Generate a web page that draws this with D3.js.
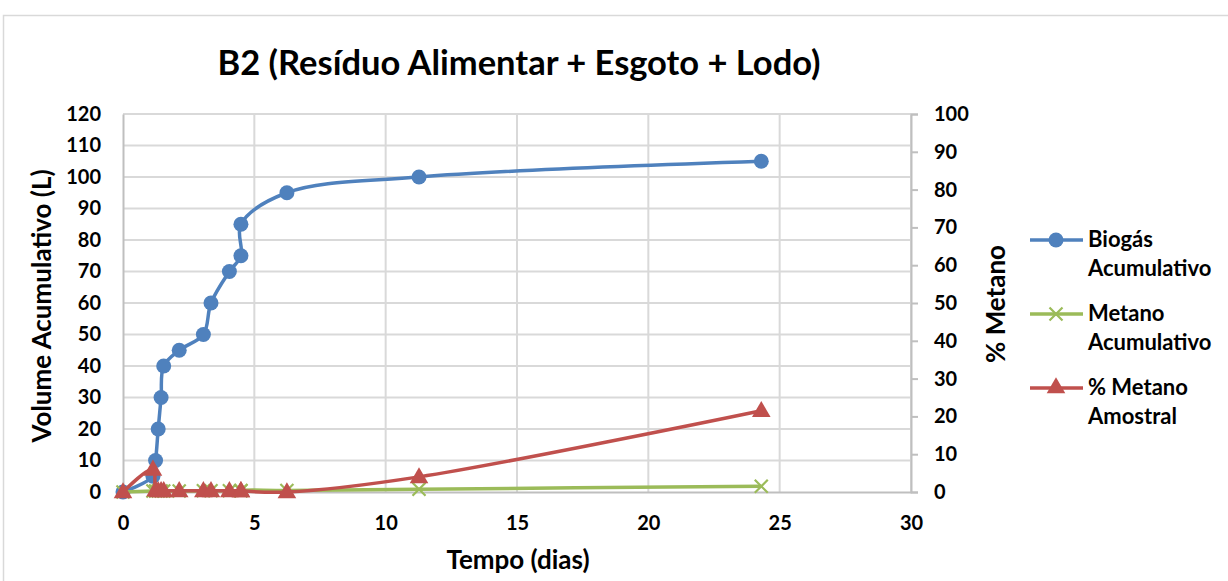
<!DOCTYPE html>
<html><head><meta charset="utf-8">
<script src="https://cdnjs.cloudflare.com/ajax/libs/d3/7.8.5/d3.min.js"></script>
<style>
html,body{margin:0;padding:0;background:#fff;}
svg{display:block;font-family:Lato,"Open Sans",sans-serif;}
</style></head>
<body>
<svg id="chart" width="1228" height="581"></svg>
<script>
const titleText = "B2 (Resíduo Alimentar + Esgoto + Lodo)";
const tempo = [0, 1.14, 1.24, 1.34, 1.45, 1.55, 2.14, 3.06, 3.35, 4.05, 4.49, 4.49, 6.24, 11.27, 24.3];
const biogasAcum = [0, 5, 10, 20, 30, 40, 45, 50, 60, 70, 75, 85, 95, 100, 105];
const metanoAcum = [0, 0.3, 0.3, 0.3, 0.3, 0.3, 0.3, 0.4, 0.4, 0.4, 0.4, 0.5, 0.5, 0.9, 1.8];
const pctMetano = [0, 6, 0.5, 0.3, 0.3, 0.3, 0.3, 0.3, 0.3, 0.3, 0.3, 0.3, 0, 4, 21.5];
const xTicks = [0, 5, 10, 15, 20, 25, 30];
const yLeftTicks = [0,10,20,30,40,50,60,70,80,90,100,110,120];
const yRightTicks = [0,10,20,30,40,50,60,70,80,90,100];
const seriesNames = [["Biogás","Acumulativo"],["Metano","Acumulativo"],["% Metano","Amostral"]];
const colors = ["#4f81bd","#9bbb59","#c0504d"];

const svg = d3.select("#chart");
const m = {left:123, right:911, top:114, bottom:492};
const x = d3.scaleLinear().domain([0,30]).range([m.left,m.right]);
const yL = d3.scaleLinear().domain([0,120]).range([m.bottom,m.top]);
const yR = d3.scaleLinear().domain([0,100]).range([m.bottom,m.top]);

// chart frame
svg.append("rect").attr("x",3.5).attr("y",15.5).attr("width",1240).attr("height",600)
  .attr("fill","none").attr("stroke","#d9d9d9").attr("stroke-width",1.5);

// title
svg.append("text").attr("x",519).attr("y",75).attr("text-anchor","middle")
  .attr("font-size",34.5).attr("font-weight","bold").attr("fill","#000").text(titleText);

// gridlines
const g = svg.append("g");
g.selectAll(".hg").data(yLeftTicks.slice(1)).join("line")
  .attr("x1",m.left).attr("x2",m.right).attr("y1",d=>yL(d)).attr("y2",d=>yL(d))
  .attr("stroke","#d9d9d9").attr("stroke-width",2);
g.selectAll(".vg").data(xTicks.slice(1)).join("line")
  .attr("y1",m.top).attr("y2",m.bottom).attr("x1",d=>x(d)).attr("x2",d=>x(d))
  .attr("stroke","#d9d9d9").attr("stroke-width",2);

// axes
const axX = svg.append("g").attr("transform",`translate(0,${m.bottom})`)
  .call(d3.axisBottom(x).tickValues(xTicks).tickSize(0).tickPadding(24));
const axL = svg.append("g").attr("transform",`translate(${m.left},0)`)
  .call(d3.axisLeft(yL).tickValues(yLeftTicks).tickSize(0).tickPadding(22));
const axR = svg.append("g").attr("transform",`translate(${m.right},0)`)
  .call(d3.axisRight(yR).tickValues(yRightTicks).tickSize(7).tickPadding(16));
[axX,axL,axR].forEach(a=>{
  a.selectAll("path.domain").attr("stroke","#bfbfbf").attr("stroke-width",2);
  a.selectAll(".tick line").attr("stroke","#bfbfbf").attr("stroke-width",2);
  a.selectAll("text").attr("font-size",20).attr("font-weight","bold").attr("fill","#000")
    .attr("font-family","Lato, sans-serif");
});

// axis titles
svg.append("text").attr("transform",`translate(51,306) rotate(-90)`).attr("text-anchor","middle")
  .attr("font-size",26).attr("font-weight","bold").text("Volume Acumulativo (L)");
svg.append("text").attr("transform",`translate(1005,304) rotate(-90)`).attr("text-anchor","middle")
  .attr("font-size",26).attr("font-weight","bold").text("% Metano");
svg.append("text").attr("x",518).attr("y",569).attr("text-anchor","middle")
  .attr("font-size",26).attr("font-weight","bold").text("Tempo (dias)");

const curve = d3.curveCatmullRom.alpha(0.5);
const idx = d3.range(tempo.length);
const lineL = vals => d3.line().x(i=>x(tempo[i])).y(i=>yL(vals[i])).curve(curve)(idx);
const lineR = vals => d3.line().x(i=>x(tempo[i])).y(i=>yR(vals[i])).curve(curve)(idx);

const tri = d3.symbol().type(d3.symbolTriangle).size(150);
const cross = "M-6.5,-6.5L6.5,6.5M-6.5,6.5L6.5,-6.5";

// Biogas
svg.append("path").attr("d",lineL(biogasAcum)).attr("fill","none").attr("stroke",colors[0]).attr("stroke-width",3.5);
svg.append("g").selectAll("circle").data(idx).join("circle")
  .attr("cx",i=>x(tempo[i])).attr("cy",i=>yL(biogasAcum[i])).attr("r",7.5).attr("fill",colors[0]);

// Metano acumulativo
svg.append("path").attr("d",lineL(metanoAcum)).attr("fill","none").attr("stroke",colors[1]).attr("stroke-width",3.5);
svg.append("g").selectAll("path").data(idx).join("path")
  .attr("transform",i=>`translate(${x(tempo[i])},${yL(metanoAcum[i])})`).attr("d",cross)
  .attr("stroke",colors[1]).attr("stroke-width",2.2).attr("fill","none");

// % Metano
svg.append("path").attr("d",lineR(pctMetano)).attr("fill","none").attr("stroke",colors[2]).attr("stroke-width",3.5);
svg.append("g").selectAll("path").data(idx).join("path")
  .attr("transform",i=>`translate(${x(tempo[i])},${yR(pctMetano[i])+1})`).attr("d",tri)
  .attr("fill",colors[2]);

// legend
const legY = [240, 314, 388];
const lg = svg.append("g");
seriesNames.forEach((nm,k)=>{
  const yy = legY[k];
  lg.append("line").attr("x1",1030).attr("x2",1083).attr("y1",yy).attr("y2",yy)
    .attr("stroke",colors[k]).attr("stroke-width",3.5);
  if(k===0) lg.append("circle").attr("cx",1056).attr("cy",yy).attr("r",7.5).attr("fill",colors[0]);
  if(k===1) lg.append("path").attr("transform",`translate(1056,${yy})`).attr("d",cross)
    .attr("stroke",colors[1]).attr("stroke-width",2.2);
  if(k===2) lg.append("path").attr("transform",`translate(1056,${yy})`).attr("d",tri).attr("fill",colors[2]);
  lg.append("text").attr("x",1088).attr("y",yy+7).attr("font-size",22).attr("font-weight","bold").text(nm[0]);
  lg.append("text").attr("x",1088).attr("y",yy+36).attr("font-size",22).attr("font-weight","bold").text(nm[1]);
});
</script>
</body></html>
